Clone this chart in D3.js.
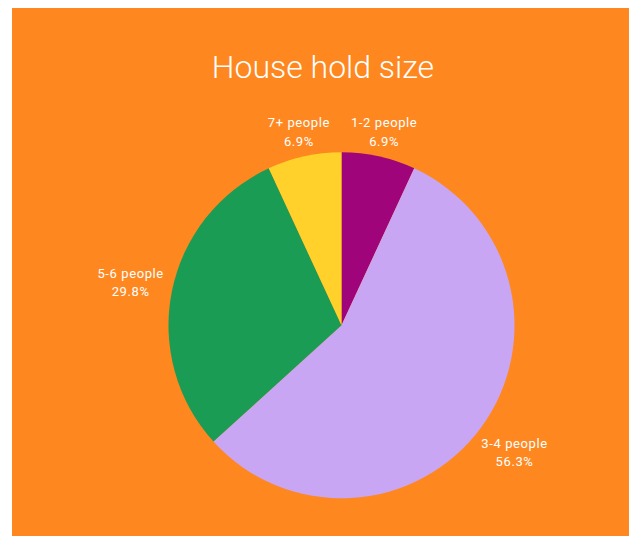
<!DOCTYPE html>
<html>
<head>
<meta charset="utf-8">
<script src="https://cdn.jsdelivr.net/npm/d3@7"></script>
<style>
  html, body { margin: 0; padding: 0; background: #ffffff; }
  svg { display: block; }
</style>
</head>
<body>
<svg id="chart" width="637" height="536"></svg>
<script>
const title = "House hold size";
const categories = ["1-2 people", "3-4 people", "5-6 people", "7+ people"];
const values = [6.9, 56.3, 29.8, 6.9];
const percentLabels = ["6.9%", "56.3%", "29.8%", "6.9%"];
const colors = ["#a0047a", "#c9a6f4", "#1b9c55", "#ffd12a"];

const W = 637, H = 536;
const svg = d3.select("#chart");
const font = "Roboto, 'Noto Sans', sans-serif";

svg.append("rect")
  .attr("x", 12).attr("y", 8)
  .attr("width", 617).attr("height", 528)
  .attr("fill", "#fe881f");

svg.append("text")
  .attr("x", 323).attr("y", 78)
  .attr("text-anchor", "middle")
  .attr("font-family", font)
  .attr("font-weight", 300)
  .attr("font-size", 32)
  .attr("fill", "#ffffff")
  .text(title);

const cx = 341.5, cy = 325.3, r = 173;
const data = categories.map((c, i) => ({ name: c, value: values[i], pct: percentLabels[i], color: colors[i] }));
const pie = d3.pie().value(d => d.value).sort(null);
const arc = d3.arc().innerRadius(0).outerRadius(r);
const arcs = pie(data);

const g = svg.append("g").attr("transform", `translate(${cx},${cy})`);
g.selectAll("path").data(arcs).join("path")
  .attr("d", arc)
  .attr("fill", d => d.data.color);

// labels placed outside the pie along the mid angle
const fs = 13, lineGap = 18.3, capH = 9.2;
const labelG = svg.append("g");
arcs.forEach(a => {
  const t = labelG.append("text")
    .attr("font-family", font)
    .attr("font-size", fs)
    .attr("letter-spacing", 0.6)
    .attr("fill", "#ffffff")
    .attr("text-anchor", "middle");
  const t1 = t.append("tspan").attr("x", 0).attr("y", 0).text(a.data.name);
  const t2 = t.append("tspan").attr("x", 0).attr("y", lineGap).text(a.data.pct);
  const w = Math.max(t1.node().getComputedTextLength(), t2.node().getComputedTextLength());
  const h = capH + lineGap;
  const mid = (a.startAngle + a.endAngle) / 2;
  const ux = Math.sin(mid), uy = -Math.cos(mid);
  const target = r + 7;
  const distTo = (s) => {
    const bx = cx + ux * s, by = cy + uy * s;
    const left = bx - w / 2, right = bx + w / 2, top = by - h / 2, bottom = by + h / 2;
    const dx = Math.max(left - cx, 0, cx - right);
    const dy = Math.max(top - cy, 0, cy - bottom);
    return Math.hypot(dx, dy);
  };
  let lo = 0, hi = 400;
  for (let k = 0; k < 60; k++) {
    const m = (lo + hi) / 2;
    if (distTo(m) < target) lo = m; else hi = m;
  }
  const bx = cx + ux * hi, by = cy + uy * hi;
  t.attr("transform", `translate(${bx},${by - h / 2 + capH})`);
});
</script>
</body>
</html>
